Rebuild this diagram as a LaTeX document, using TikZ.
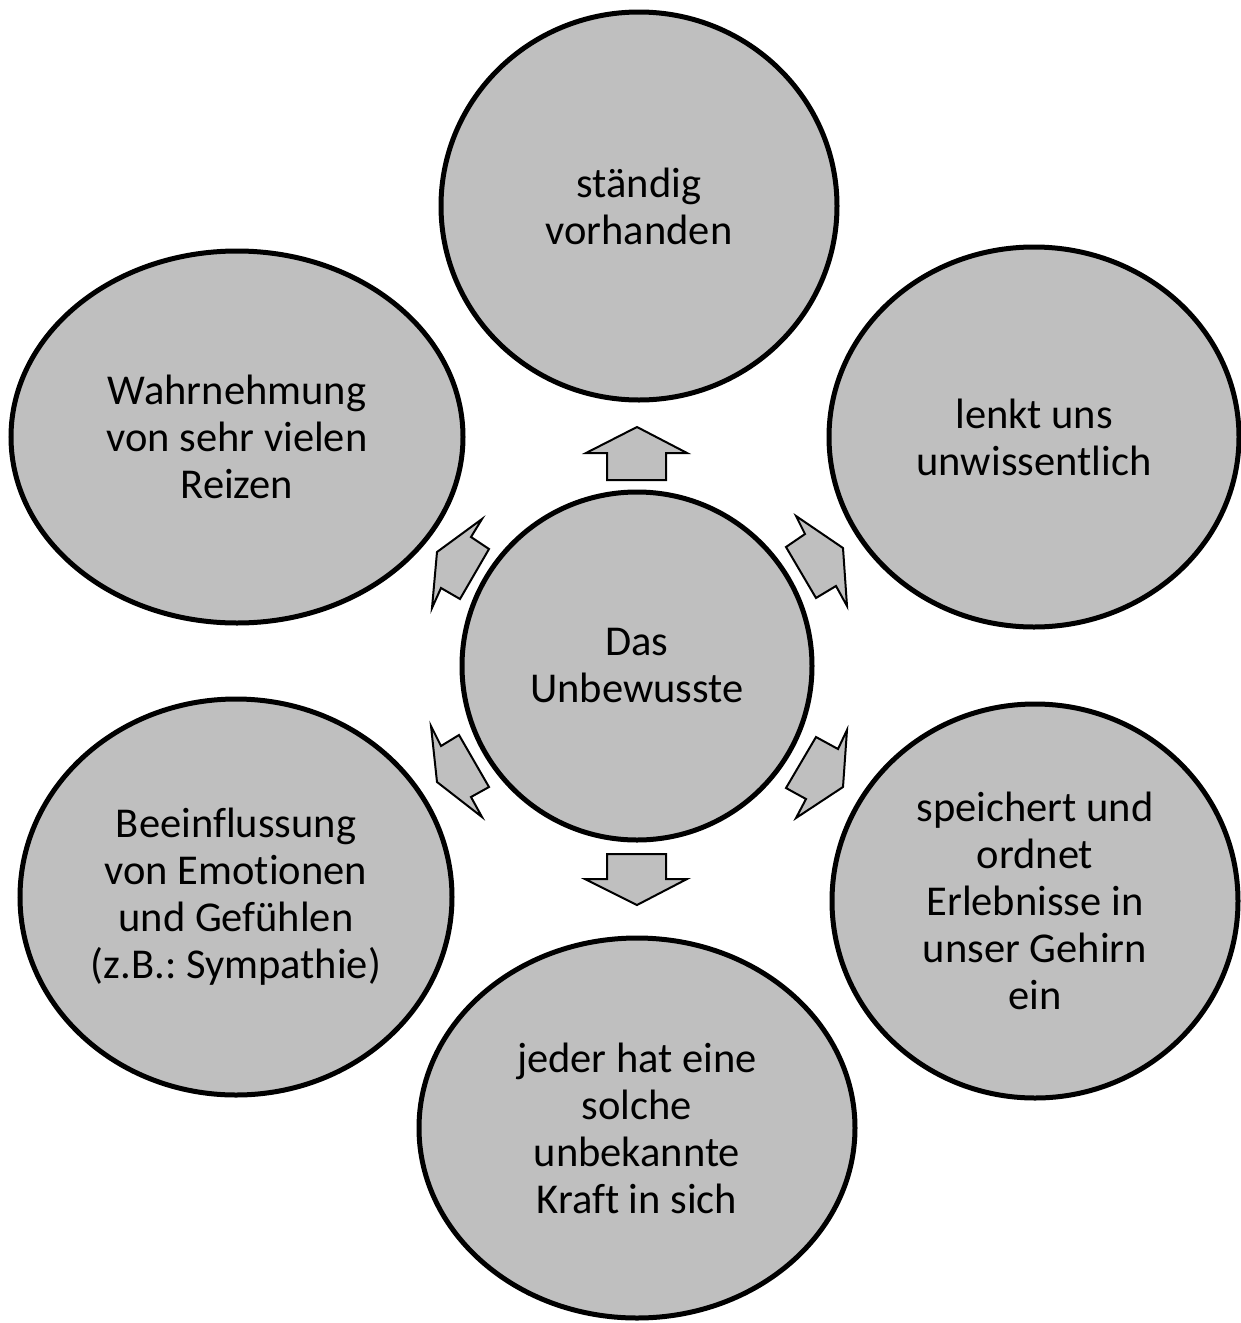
\documentclass[tikz,border=0pt]{standalone}
\usepackage{fontspec}
\setmainfont{Carlito}[Ligatures=NoCommon]
\usetikzlibrary{shapes.geometric}
\definecolor{bubblegray}{HTML}{BFBFBF}
\frenchspacing
\begin{document}
\begin{tikzpicture}[x=1pt,y=-1pt,
  bubble/.style={ellipse, draw=black, line width=5pt, fill=bubblegray, inner sep=0pt,
    align=center, font=\fontsize{42.5}{47}\selectfont},
  blockarrow/.style={draw=black, fill=bubblegray, line width=2pt, line join=miter}]
\useasboundingbox (0,0) rectangle (1241,1323);
% outer bubbles
\node[bubble, minimum width=396pt, minimum height=388pt] (top) at (639,206) {ständig\\vorhanden};
\node[bubble, minimum width=410pt, minimum height=380pt] (ru) at (1034,437) {lenkt uns\\unwissentlich};
\node[bubble, minimum width=406pt, minimum height=394pt] (rl) at (1035,901) {speichert und\\ordnet\\Erlebnisse in\\unser Gehirn\\ein};
\node[bubble, minimum width=436pt, minimum height=380pt] (bot) at (637,1128) {jeder hat eine\\solche\\unbekannte\\Kraft in sich};
\node[bubble, minimum width=432pt, minimum height=396pt] (ll) at (236,897) {Beeinflussung\\von Emotionen\\und Gefühlen\\(z.B.: Sympathie)};
\node[bubble, minimum width=452pt, minimum height=372pt] (lu) at (237,437) {Wahrnehmung\\von sehr vielen\\Reizen};
% centre
\node[bubble, minimum width=350pt, minimum height=348pt] (c) at (637,666) {Das\\Unbewusste};
% block arrows
\draw[blockarrow] (607,480) -- (607,453) -- (586,453) -- (637,427) -- (687,453) -- (666,453) -- (666,480) -- cycle;
\draw[blockarrow] (607,854) -- (607,879) -- (585,879) -- (637,905) -- (687,879) -- (666,879) -- (666,854) -- cycle;
\draw[blockarrow] (489,549) -- (471,537) -- (482,519) -- (437,552) -- (432,608) -- (441,588) -- (460,599) -- cycle;
\draw[blockarrow] (786,547) -- (805,534) -- (796,516) -- (843,548) -- (847,606) -- (836,586) -- (816,598) -- cycle;
\draw[blockarrow] (459,735) -- (441,746) -- (431,726) -- (437,782) -- (482,817) -- (471,797) -- (489,787) -- cycle;
\draw[blockarrow] (816,737) -- (838,749) -- (847,730) -- (843,787) -- (796,818) -- (806,799) -- (786,788) -- cycle;
\end{tikzpicture}
\end{document}
